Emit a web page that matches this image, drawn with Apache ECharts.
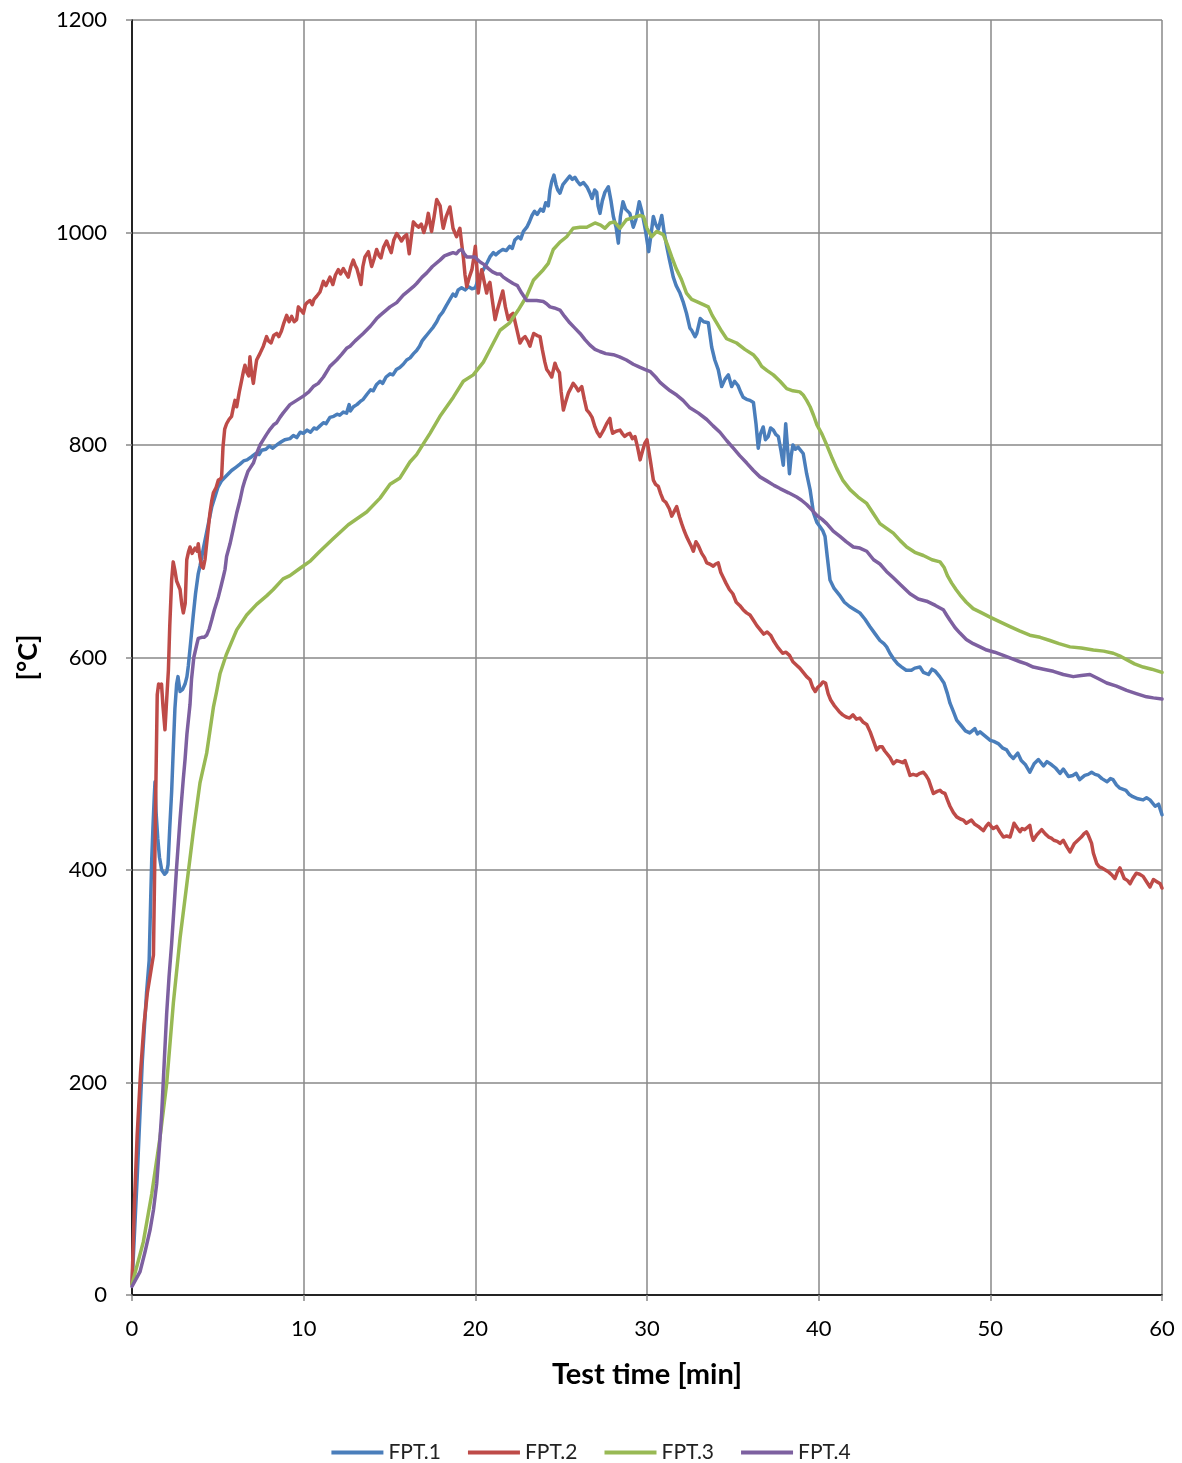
<!DOCTYPE html>
<html>
<head>
<meta charset="utf-8">
<title>FPT temperature curves</title>
<script src="https://cdn.jsdelivr.net/npm/echarts@6/dist/echarts.min.js"></script>
<style>
  html, body { margin: 0; padding: 0; background: #fff; }
  #chart { width: 1182px; height: 1463px; }
</style>
</head>
<body>
<div id="chart"></div>
<script>
// Measured furnace temperatures, [test time in min, temperature in °C]
const seriesNames = ['FPT.1', 'FPT.2', 'FPT.3', 'FPT.4'];
const xTicks = [0, 10, 20, 30, 40, 50, 60];
const yTicks = [0, 200, 400, 600, 800, 1000, 1200];

const fpt1 = [[0,10],[0.3,110],[0.6,220],[0.85,285],[1.0,315],[1.1,380],[1.15,410],[1.22,440],[1.3,470],[1.34,483],[1.4,455],[1.5,430],[1.6,412],[1.73,400],[1.9,396],[2.02,398],[2.1,405],[2.2,440],[2.31,474],[2.42,520],[2.5,552],[2.6,575],[2.68,582],[2.8,568],[2.95,570],[3.09,575],[3.2,582],[3.28,592],[3.42,615],[3.57,640],[3.7,660],[3.86,679],[3.96,686],[4.16,703],[4.35,718],[4.5,730],[4.65,742],[4.83,751],[5.0,760],[5.2,766],[5.5,771],[5.8,776],[6.05,779],[6.29,782],[6.5,785],[6.7,786],[6.97,789],[7.2,792],[7.4,791],[7.55,795],[7.8,796],[8.0,799],[8.2,797],[8.43,800],[8.7,803],[8.9,805],[9.2,806],[9.4,809],[9.6,807],[9.8,812],[9.98,811],[10.2,814],[10.4,812],[10.6,816],[10.76,815],[10.95,818],[11.15,821],[11.3,820],[11.53,826],[11.75,827],[11.95,829],[12.1,828],[12.31,831],[12.5,830],[12.65,838],[12.72,832],[12.9,836],[13.1,838],[13.3,841],[13.47,843],[13.7,848],[13.9,852],[14.05,851],[14.25,857],[14.45,860],[14.6,858],[14.8,864],[15.03,867],[15.2,866],[15.4,871],[15.6,873],[15.8,876],[16.0,880],[16.2,882],[16.4,886],[16.58,889],[16.75,893],[16.9,898],[17.05,901],[17.2,904],[17.4,908],[17.55,911],[17.75,916],[17.9,921],[18.1,925],[18.3,931],[18.52,937],[18.7,942],[18.85,940],[19.0,946],[19.2,948],[19.4,946],[19.6,949],[19.8,947],[20.0,948],[20.15,955],[20.3,960],[20.5,966],[20.7,972],[20.85,977],[21.05,981],[21.2,979],[21.4,982],[21.6,984],[21.8,983],[22.0,987],[22.15,985],[22.3,993],[22.5,996],[22.65,994],[22.8,1001],[23.0,1005],[23.15,1010],[23.3,1016],[23.45,1020],[23.6,1017],[23.8,1022],[23.96,1020],[24.1,1028],[24.25,1025],[24.35,1040],[24.45,1048],[24.58,1054],[24.7,1045],[24.8,1040],[24.93,1037],[25.1,1045],[25.3,1049],[25.5,1053],[25.65,1050],[25.8,1052],[25.95,1048],[26.1,1045],[26.3,1047],[26.5,1043],[26.65,1038],[26.8,1032],[26.95,1040],[27.07,1038],[27.15,1025],[27.26,1018],[27.4,1030],[27.55,1038],[27.75,1043],[27.9,1030],[28.04,1015],[28.2,1005],[28.33,990],[28.45,1015],[28.6,1029],[28.75,1022],[29.0,1018],[29.2,1005],[29.35,1012],[29.55,1029],[29.7,1020],[29.9,1003],[30.1,982],[30.25,1000],[30.37,1015],[30.5,1008],[30.66,1003],[30.8,1012],[30.86,1016],[31.0,1000],[31.15,987],[31.3,975],[31.53,958],[31.7,950],[31.92,943],[32.1,935],[32.3,924],[32.5,910],[32.6,908],[32.8,902],[32.9,905],[33.1,919],[33.3,916],[33.57,915],[33.77,892],[33.95,880],[34.15,871],[34.35,855],[34.55,862],[34.74,866],[34.93,855],[35.1,860],[35.3,856],[35.45,850],[35.6,845],[35.8,843],[36.0,842],[36.2,840],[36.35,820],[36.48,797],[36.6,810],[36.77,817],[36.9,805],[37.06,808],[37.2,816],[37.36,814],[37.5,810],[37.65,808],[37.8,795],[37.94,781],[38.08,820],[38.2,795],[38.3,773],[38.4,790],[38.5,800],[38.65,796],[38.8,798],[38.95,795],[39.1,792],[39.3,773],[39.5,758],[39.7,736],[39.9,727],[40.08,723],[40.25,719],[40.37,714],[40.5,695],[40.66,673],[40.9,665],[41.2,659],[41.5,652],[41.8,648],[42.1,645],[42.4,642],[42.7,636],[42.99,629],[43.3,622],[43.57,616],[43.8,613],[43.96,610],[44.15,604],[44.35,599],[44.6,594],[44.84,591],[45.1,588],[45.4,588],[45.6,590],[45.9,591],[46.1,586],[46.4,584],[46.6,589],[46.8,587],[47.05,582],[47.3,576],[47.5,566],[47.65,557],[47.85,549],[48.04,541],[48.3,536],[48.55,531],[48.8,529],[49.1,533],[49.25,528],[49.4,530],[49.7,526],[50.0,522],[50.2,521],[50.46,519],[50.7,515],[50.95,513],[51.15,508],[51.34,505],[51.6,510],[51.8,503],[52.05,499],[52.3,492],[52.55,500],[52.8,504],[53.1,498],[53.3,502],[53.57,499],[53.8,496],[54.06,491],[54.25,495],[54.55,488],[54.8,489],[55.0,491],[55.2,485],[55.5,489],[55.7,490],[55.9,492],[56.1,490],[56.3,489],[56.5,486],[56.8,483],[57.0,486],[57.15,485],[57.35,480],[57.55,477],[57.9,475],[58.1,471],[58.3,469],[58.6,467],[58.9,466],[59.1,468],[59.3,466],[59.6,460],[59.8,462],[60,452]];

const fpt2 = [[0,10],[0.15,90],[0.3,150],[0.5,210],[0.7,255],[0.9,285],[1.1,305],[1.25,320],[1.32,400],[1.4,490],[1.47,565],[1.55,575],[1.65,572],[1.72,575],[1.8,555],[1.92,532],[2.0,555],[2.12,588],[2.2,630],[2.31,673],[2.4,690],[2.5,682],[2.6,672],[2.7,668],[2.8,664],[2.9,650],[2.99,642],[3.1,651],[3.19,692],[3.3,700],[3.38,704],[3.5,698],[3.67,703],[3.8,700],[3.86,707],[3.95,695],[4.06,686],[4.15,684],[4.25,692],[4.4,715],[4.54,736],[4.65,748],[4.74,755],[4.9,760],[5.03,767],[5.15,768],[5.22,770],[5.3,798],[5.4,815],[5.51,820],[5.65,824],[5.8,827],[5.9,835],[6.0,842],[6.1,836],[6.25,850],[6.39,861],[6.5,870],[6.58,875],[6.7,868],[6.8,865],[6.87,883],[6.95,870],[7.07,858],[7.15,868],[7.26,880],[7.45,886],[7.65,893],[7.84,902],[7.95,898],[8.1,896],[8.25,903],[8.43,905],[8.55,902],[8.7,907],[8.85,915],[9.01,922],[9.15,916],[9.3,921],[9.45,916],[9.59,918],[9.69,930],[9.79,928],[9.98,924],[10.1,932],[10.2,934],[10.37,936],[10.5,932],[10.6,937],[10.76,940],[10.95,944],[11.15,954],[11.3,950],[11.53,958],[11.7,951],[11.85,960],[12.02,965],[12.15,961],[12.31,966],[12.45,962],[12.6,958],[12.75,968],[12.89,974],[13.0,969],[13.1,966],[13.2,960],[13.34,951],[13.45,968],[13.57,977],[13.77,982],[13.96,968],[14.1,975],[14.25,984],[14.4,978],[14.5,976],[14.65,986],[14.83,992],[14.95,987],[15.1,981],[15.25,993],[15.42,999],[15.55,996],[15.7,992],[15.85,996],[16.0,998],[16.15,980],[16.28,997],[16.39,1010],[16.55,1007],[16.7,1005],[16.85,1008],[17.0,1000],[17.15,1008],[17.26,1018],[17.35,1010],[17.45,1001],[17.6,1015],[17.75,1031],[17.85,1028],[17.95,1025],[18.05,1012],[18.13,1004],[18.3,1015],[18.52,1024],[18.6,1015],[18.7,1004],[18.8,1000],[18.91,996],[19.0,1000],[19.1,1004],[19.2,990],[19.3,977],[19.4,960],[19.5,949],[19.65,958],[19.8,965],[19.9,975],[20.0,987],[20.1,965],[20.17,943],[20.27,955],[20.37,965],[20.5,955],[20.66,943],[20.75,950],[20.85,953],[21.0,935],[21.15,918],[21.3,928],[21.44,936],[21.6,945],[21.75,930],[21.92,918],[22.05,922],[22.2,924],[22.4,910],[22.6,896],[22.75,900],[22.9,902],[23.05,898],[23.18,893],[23.3,900],[23.4,905],[23.6,903],[23.77,902],[23.9,890],[24.05,878],[24.16,871],[24.3,868],[24.45,864],[24.64,877],[24.75,872],[24.9,868],[25.0,850],[25.13,833],[25.25,840],[25.42,849],[25.55,853],[25.7,858],[25.85,855],[26.0,851],[26.2,855],[26.35,843],[26.49,833],[26.65,830],[26.8,826],[26.97,817],[27.1,812],[27.26,808],[27.4,812],[27.5,815],[27.65,820],[27.84,825],[27.92,816],[28.0,811],[28.2,813],[28.43,814],[28.55,811],[28.7,808],[28.85,810],[29.0,811],[29.15,806],[29.3,808],[29.45,798],[29.6,786],[29.75,795],[29.88,802],[30.0,805],[30.08,806],[30.2,785],[30.37,767],[30.5,763],[30.66,761],[30.8,754],[30.95,748],[31.1,746],[31.2,747],[31.3,740],[31.44,733],[31.6,738],[31.73,742],[31.9,732],[32.02,726],[32.15,720],[32.3,714],[32.45,709],[32.6,704],[32.7,700],[32.85,709],[33.0,705],[33.19,698],[33.35,694],[33.48,689],[33.65,688],[33.86,686],[34.0,688],[34.15,689],[34.3,680],[34.45,675],[34.6,670],[34.8,664],[35.0,660],[35.2,652],[35.4,649],[35.6,645],[35.8,642],[36.0,640],[36.2,635],[36.4,630],[36.6,626],[36.8,622],[37.0,624],[37.2,621],[37.4,615],[37.6,610],[37.75,607],[37.9,604],[38.1,605],[38.3,602],[38.5,596],[38.7,593],[38.9,590],[39.1,586],[39.3,582],[39.5,579],[39.65,572],[39.8,568],[39.95,572],[40.1,574],[40.25,577],[40.4,576],[40.55,566],[40.7,560],[40.9,555],[41.05,552],[41.2,549],[41.4,546],[41.6,544],[41.8,543],[42.0,546],[42.2,542],[42.4,543],[42.6,539],[42.8,537],[43.0,530],[43.18,522],[43.38,513],[43.55,516],[43.7,516],[43.85,512],[43.96,513],[44.15,506],[44.35,500],[44.55,503],[44.74,502],[44.9,501],[45.03,503],[45.2,495],[45.32,489],[45.5,490],[45.7,489],[45.9,491],[46.1,492],[46.25,489],[46.4,485],[46.55,478],[46.68,472],[46.9,474],[47.07,475],[47.2,473],[47.36,472],[47.5,466],[47.65,460],[47.85,454],[48.04,450],[48.25,448],[48.43,447],[48.6,444],[48.7,445],[48.9,447],[49.1,443],[49.3,441],[49.45,439],[49.6,437],[49.75,441],[49.9,444],[50.05,441],[50.17,439],[50.37,441],[50.55,436],[50.76,431],[50.95,432],[51.15,431],[51.28,438],[51.38,444],[51.55,440],[51.73,436],[51.85,439],[52.0,438],[52.15,440],[52.3,442],[52.4,433],[52.5,428],[52.7,433],[52.99,438],[53.2,434],[53.4,431],[53.55,430],[53.7,428],[53.9,427],[54.06,425],[54.25,428],[54.45,422],[54.64,417],[54.8,422],[54.9,425],[55.1,428],[55.3,431],[55.45,434],[55.6,436],[55.7,433],[55.8,434],[55.9,425],[56.0,416],[56.2,406],[56.35,403],[56.5,402],[56.7,400],[56.9,398],[57.1,395],[57.26,392],[57.4,398],[57.55,402],[57.7,396],[57.8,392],[58.0,390],[58.14,387],[58.3,392],[58.5,397],[58.7,396],[58.9,394],[59.1,389],[59.3,384],[59.5,391],[59.7,389],[59.9,387],[60,383]];

const fpt3 = [[0,10],[0.3,28],[0.66,50],[1.15,95],[1.63,148],[2.02,199],[2.41,275],[2.8,336],[3.18,385],[3.57,436],[3.96,482],[4.35,510],[4.74,553],[4.93,568],[5.13,585],[5.5,603],[6.1,626],[6.68,640],[7.26,650],[7.84,658],[8.23,664],[8.8,674],[9.2,677],[9.79,684],[10.4,691],[10.95,700],[11.73,712],[12.6,725],[13.67,737],[14.45,750],[15.03,763],[15.61,769],[16.19,784],[16.58,791],[16.97,801],[17.36,811],[17.94,827],[18.72,845],[19.3,860],[19.88,866],[20.47,878],[21.05,896],[21.44,908],[22.0,915],[22.5,927],[22.99,940],[23.38,955],[23.96,965],[24.25,971],[24.54,984],[24.93,991],[25.32,996],[25.7,1004],[26.1,1005],[26.49,1005],[26.97,1009],[27.3,1007],[27.55,1004],[27.84,1009],[28.1,1010],[28.43,1004],[28.8,1012],[29.2,1014],[29.6,1016],[29.8,1015],[30.0,1004],[30.27,996],[30.56,1001],[30.95,998],[31.2,988],[31.44,977],[31.7,966],[32.0,956],[32.3,943],[32.6,937],[32.9,935],[33.57,930],[33.8,922],[34.06,915],[34.35,907],[34.64,900],[35.22,896],[35.7,890],[36.19,885],[36.45,880],[36.68,874],[37.0,870],[37.36,866],[37.75,860],[38.14,853],[38.5,851],[38.9,850],[39.1,847],[39.3,842],[39.5,836],[39.7,828],[39.9,819],[40.2,810],[40.47,800],[40.75,789],[41.05,778],[41.4,767],[41.83,758],[42.3,751],[42.8,745],[43.2,735],[43.57,726],[44.0,721],[44.35,717],[44.75,710],[45.13,704],[45.6,699],[46.1,696],[46.6,692],[47.07,690],[47.3,685],[47.5,677],[47.75,670],[48.0,664],[48.23,659],[48.6,652],[49.0,646],[49.5,642],[49.98,638],[50.5,634],[51.15,629],[51.7,625],[52.3,621],[52.9,619],[53.47,616],[54.0,613],[54.64,610],[55.3,609],[56.0,607],[56.6,606],[57.16,604],[57.6,601],[57.94,598],[58.4,594],[58.9,591],[59.4,589],[60,586]];

const fpt4 = [[0,8],[0.2,14],[0.47,22],[0.75,40],[1.05,61],[1.25,80],[1.44,105],[1.6,140],[1.73,171],[1.88,220],[2.02,265],[2.16,300],[2.31,331],[2.45,365],[2.6,403],[2.8,448],[2.99,486],[3.09,504],[3.2,528],[3.38,556],[3.47,580],[3.6,600],[3.77,612],[3.86,618],[4.06,619],[4.2,619],[4.35,621],[4.5,627],[4.64,635],[4.8,645],[5.03,657],[5.2,668],[5.32,676],[5.42,683],[5.51,695],[5.71,707],[5.9,721],[6.1,736],[6.29,748],[6.45,760],[6.58,767],[6.75,775],[6.87,778],[7.07,783],[7.26,792],[7.46,800],[7.65,805],[7.84,810],[8.05,815],[8.25,819],[8.43,821],[8.62,826],[8.8,830],[9.0,834],[9.2,838],[9.59,842],[9.98,846],[10.3,850],[10.56,855],[10.85,858],[11.15,864],[11.53,874],[11.92,880],[12.2,885],[12.5,891],[12.7,893],[13.0,898],[13.47,905],[13.9,912],[14.25,919],[14.45,922],[15.03,930],[15.42,934],[15.8,941],[16.1,945],[16.39,949],[16.58,952],[16.9,958],[17.17,962],[17.5,968],[17.94,974],[18.2,978],[18.52,980],[18.7,981],[18.9,980],[19.05,983],[19.2,984],[19.35,980],[19.5,977],[19.7,977],[19.98,977],[20.15,974],[20.3,972],[20.5,970],[20.76,966],[21.0,963],[21.25,961],[21.45,961],[21.63,958],[21.9,955],[22.2,952],[22.45,950],[22.7,943],[22.99,936],[23.3,936],[23.57,936],[23.96,935],[24.15,933],[24.35,930],[24.6,929],[24.93,927],[25.2,921],[25.5,915],[25.8,910],[26.1,905],[26.4,899],[26.68,894],[26.97,890],[27.26,888],[27.6,886],[28.04,885],[28.4,883],[28.8,880],[29.2,876],[29.6,873],[29.9,871],[30.2,869],[30.5,864],[30.76,859],[31.05,855],[31.35,851],[31.73,847],[32.1,842],[32.5,835],[33.0,830],[33.48,824],[33.85,818],[34.25,812],[34.65,804],[35.03,797],[35.4,790],[35.81,783],[36.2,776],[36.58,770],[37.0,766],[37.4,762],[37.75,759],[38.25,755],[38.72,751],[39.0,748],[39.3,744],[39.6,739],[39.88,734],[40.2,730],[40.47,726],[40.85,719],[41.24,714],[41.6,709],[42.02,704],[42.4,703],[42.8,700],[43.2,692],[43.57,688],[43.95,681],[44.35,675],[44.8,668],[45.32,660],[45.8,655],[46.29,653],[46.8,649],[47.26,645],[47.45,640],[47.65,635],[47.95,628],[48.23,623],[48.6,617],[49.0,613],[49.4,610],[49.79,607],[50.25,605],[50.76,602],[51.25,599],[51.73,596],[52.1,594],[52.5,591],[53.1,589],[53.67,587],[54.25,584],[54.83,582],[55.3,583],[55.8,584],[56.3,580],[56.78,576],[57.35,573],[57.94,569],[58.5,566],[59.1,563],[59.5,562],[60,561]];

const seriesData = [fpt1, fpt2, fpt3, fpt4];
const colors = ['#4a7ebb', '#be4b48', '#98b954', '#7d60a0'];

const FONT = 'Lato, "Liberation Sans", sans-serif';
const GRID_GRAY = '#898989';

const chart = echarts.init(document.getElementById('chart'), null, { renderer: 'canvas' });

const option = {
  animation: false,
  backgroundColor: '#ffffff',
  textStyle: { fontFamily: FONT },
  color: colors,
  grid: { left: 132, right: 20, top: 20, bottom: 168, containLabel: false },
  legend: {
    top: 1437,
    left: 'center',
    icon: 'rect',
    itemWidth: 52,
    itemHeight: 4,
    itemGap: 27,
    textStyle: { fontFamily: FONT, fontSize: 21, color: '#222' },
    data: seriesNames
  },
  xAxis: [
    {
      type: 'value',
      min: xTicks[0],
      max: xTicks[xTicks.length - 1],
      interval: 10,
      name: 'Test time [min]',
      nameLocation: 'middle',
      nameGap: 65,
      nameTextStyle: { fontFamily: FONT, fontSize: 29, fontWeight: 'bold', color: '#000' },
      axisLine: { show: true, onZero: false, lineStyle: { color: GRID_GRAY, width: 1.5 } },
      axisTick: { show: true, inside: false, length: 6, lineStyle: { color: GRID_GRAY, width: 1.5 } },
      axisLabel: { fontFamily: FONT, fontSize: 22, color: '#000', margin: 23 },
      splitLine: { show: true, lineStyle: { color: GRID_GRAY, width: 1.5 } }
    },
    {
      type: 'value',
      position: 'top',
      min: 0, max: 60, interval: 10,
      axisLine: { show: true, lineStyle: { color: '#000', width: 1.5 } },
      axisTick: { show: false },
      axisLabel: { show: false },
      splitLine: { show: false }
    }
  ],
  yAxis: [
    {
      type: 'value',
      min: yTicks[0],
      max: yTicks[yTicks.length - 1],
      interval: 200,
      name: '[°C]',
      nameLocation: 'middle',
      nameGap: 90,
      nameRotate: 90,
      nameTextStyle: { fontFamily: FONT, fontSize: 27, fontWeight: 'bold', color: '#000' },
      axisLine: { show: true, onZero: false, lineStyle: { color: GRID_GRAY, width: 1.5 } },
      axisTick: { show: true, inside: false, length: 6, lineStyle: { color: GRID_GRAY, width: 1.5 } },
      axisLabel: { fontFamily: FONT, fontSize: 22, color: '#000', margin: 25, formatter: v => String(v) },
      splitLine: { show: true, lineStyle: { color: GRID_GRAY, width: 1.5 } }
    },
    {
      type: 'value',
      position: 'right',
      min: 0, max: 1200, interval: 200,
      axisLine: { show: true, lineStyle: { color: '#000', width: 1.5 } },
      axisTick: { show: false },
      axisLabel: { show: false },
      splitLine: { show: false }
    }
  ],
  series: seriesNames.map((name, i) => ({
    name: name,
    type: 'line',
    xAxisIndex: 0,
    yAxisIndex: 0,
    data: seriesData[i],
    showSymbol: false,
    symbol: 'none',
    smooth: false,
    clip: true,
    lineStyle: { width: 3.5, color: colors[i], join: 'round', cap: 'round' },
    itemStyle: { color: colors[i] },
    emphasis: { disabled: true }
  }))
};

chart.setOption(option);
</script>
</body>
</html>
